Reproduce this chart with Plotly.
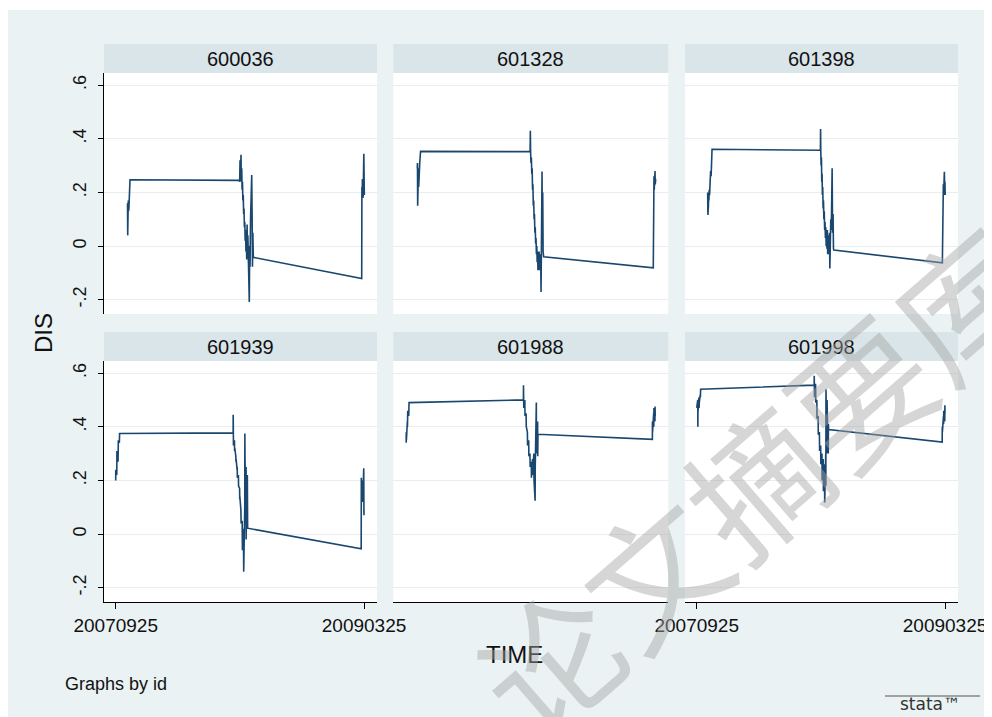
import plotly.graph_objects as go

# ---------------- data ----------------
ids = ["600036", "601328", "601398", "601939", "601988", "601998"]

time_600036 = [20071847, 20071862, 20071878, 20071893, 20071909, 20071925, 20071940, 20071956, 20071979, 20072011, 20072042,
               20080558, 20080580, 20080610, 20080640, 20080670, 20080715, 20080740, 20080770, 20080800, 20080830,
               20080860, 20080890, 20080920, 20080950, 20080980, 20081010, 20081040, 20081070, 20081100, 20081130,
               20081160, 20081190, 20081220, 20081250, 20081285, 20081310, 20081340, 20081363, 20081390, 20081420,
               20081460, 20081500, 20081551, 20081580, 20081610, 20081640, 20081676,
               20090145, 20090160, 20090180, 20090200, 20090220, 20090240, 20090260, 20090280, 20090310, 20090330, 20090350]
dis_600036 = [0.16, 0.04, 0.15, 0.13, 0.17, 0.13, 0.16, 0.14, 0.17, 0.21, 0.247,
              0.245, 0.30, 0.24, 0.32, 0.25, 0.34, 0.24, 0.29, 0.21, 0.24,
              0.17, 0.19, 0.12, 0.14, 0.07, 0.09, 0.02, 0.06, -0.02, 0.05,
              -0.05, 0.08, -0.03, 0.04, -0.06, 0.03, -0.05, -0.208, 0.00, -0.077,
              0.10, 0.22, 0.265, 0.13, -0.077, 0.05, -0.042,
              -0.121, 0.22, 0.18, 0.25, 0.19, 0.24, 0.18, 0.25, 0.344, 0.21, 0.19]

time_601328 = [20071868, 20071885, 20071900, 20071920, 20071940, 20071960, 20071980, 20072005, 20072030, 20072060, 20072090, 20072125,
               20080620, 20080639, 20080660, 20080690, 20080720, 20080750, 20080780, 20080810, 20080840, 20080870,
               20080900, 20080930, 20080960, 20080990, 20081020, 20081050, 20081080, 20081110, 20081140, 20081170,
               20081200, 20081230, 20081260, 20081290, 20081320, 20081350, 20081380, 20081410, 20081440, 20081469,
               20081490, 20081510, 20081547, 20081570, 20081600, 20081630, 20081672,
               20090174, 20090190, 20090210, 20090230, 20090250, 20090270, 20090290, 20090310, 20090330, 20090360]
dis_601328 = [0.29, 0.31, 0.15, 0.27, 0.20, 0.29, 0.22, 0.30, 0.24, 0.31, 0.33, 0.353,
              0.352, 0.43, 0.35, 0.31, 0.33, 0.27, 0.29, 0.21, 0.23, 0.15,
              0.17, 0.10, 0.12, 0.05, 0.07, 0.01, 0.03, -0.03, 0.00, -0.06,
              -0.02, -0.09, -0.03, -0.08, -0.02, -0.09, -0.04, -0.08, -0.03, -0.171,
              0.05, 0.15, 0.278, 0.05, 0.20, -0.02, -0.04,
              -0.081, 0.22, 0.20, 0.26, 0.21, 0.27, 0.22, 0.28, 0.23, 0.25]

time_601398 = [20071781, 20071800, 20071820, 20071840, 20071860, 20071880, 20071900, 20071930, 20071970, 20072010, 20072050, 20072090, 20072123,
               20080590, 20080603, 20080620, 20080645, 20080670, 20080695, 20080720, 20080745, 20080770, 20080800,
               20080830, 20080860, 20080890, 20080920, 20080950, 20080980, 20081010, 20081040, 20081070, 20081100,
               20081130, 20081160, 20081190, 20081220, 20081249, 20081300, 20081327, 20081360, 20081400, 20081440,
               20081506, 20081540, 20081580, 20081610, 20081638,
               20090118, 20090135, 20090155, 20090175, 20090195, 20090215, 20090235, 20090255, 20090275, 20090300, 20090320, 20090340]
dis_601398 = [0.20, 0.116, 0.19, 0.15, 0.20, 0.17, 0.21, 0.19, 0.25, 0.28, 0.26, 0.31, 0.361,
              0.357, 0.436, 0.35, 0.30, 0.33, 0.24, 0.27, 0.19, 0.22, 0.14,
              0.17, 0.10, 0.13, 0.06, 0.09, 0.03, 0.07, 0.00, 0.05, -0.01,
              0.06, -0.03, 0.04, -0.02, -0.03, 0.05, -0.083, 0.02, 0.10, 0.06,
              0.29, 0.05, 0.12, -0.01, -0.015,
              -0.062, 0.17, 0.20, 0.16, 0.23, 0.19, 0.26, 0.21, 0.277, 0.22, 0.24, 0.19]

time_601939 = [20070925, 20070928, 20071008, 20071010, 20071015, 20071019, 20071025, 20071101, 20071108, 20071115, 20071122, 20071130, 20071210, 20071220, 20071228,
               20080102, 20080104, 20080110, 20080118, 20080125, 20080201, 20080215, 20080228, 20080310, 20080320,
               20080331, 20080410, 20080420, 20080430, 20080512, 20080522, 20080605, 20080615, 20080625, 20080705,
               20080715, 20080725, 20080805, 20080815, 20080825, 20080905, 20080915, 20080925, 20081008, 20081015,
               20081020, 20081028, 20081105, 20081112, 20081118, 20081125, 20081202, 20081210, 20081218, 20081231,
               20090105, 20090108, 20090115, 20090122, 20090205, 20090212, 20090219, 20090226, 20090305, 20090310, 20090317, 20090320, 20090325]
dis_601939 = [0.20, 0.24, 0.22, 0.27, 0.25, 0.31, 0.28, 0.30, 0.27, 0.33, 0.31, 0.35, 0.34, 0.37, 0.375,
              0.377, 0.445, 0.36, 0.37, 0.33, 0.35, 0.31, 0.32, 0.29, 0.27,
              0.28, 0.24, 0.25, 0.21, 0.22, 0.18, 0.17, 0.13, 0.14, 0.09,
              0.07, 0.04, 0.05, 0.00, -0.06, 0.02, -0.05, -0.14, 0.10, 0.375,
              0.15, 0.28, 0.05, 0.25, -0.02, 0.18, 0.09, 0.22, 0.12, 0.022,
              -0.055, 0.19, 0.21, 0.17, 0.20, 0.15, 0.18, 0.12, 0.245, 0.10, 0.16, 0.07, 0.09]

time_601988 = [20071008, 20071012, 20071019, 20071026, 20071102, 20071109, 20071116, 20071123, 20071130, 20071207, 20071214, 20071231,
               20080102, 20080108, 20080115, 20080122, 20080130, 20080212, 20080225, 20080310, 20080325, 20080410,
               20080425, 20080512, 20080526, 20080610, 20080625, 20080710, 20080725, 20080810, 20080825, 20080910,
               20080925, 20081010, 20081020, 20081105, 20081112, 20081120, 20081128, 20081205, 20081212, 20081220, 20081231,
               20090105, 20090110, 20090120, 20090205, 20090215, 20090225, 20090305, 20090315, 20090325]
dis_601988 = [0.37, 0.34, 0.38, 0.35, 0.42, 0.40, 0.45, 0.43, 0.46, 0.44, 0.47, 0.49,
              0.50, 0.555, 0.50, 0.53, 0.47, 0.50, 0.44, 0.45, 0.40, 0.38,
              0.33, 0.35, 0.29, 0.30, 0.25, 0.27, 0.21, 0.28, 0.22, 0.30,
              0.20, 0.124, 0.25, 0.49, 0.30, 0.45, 0.32, 0.42, 0.29, 0.40, 0.372,
              0.353, 0.42, 0.38, 0.45, 0.40, 0.47, 0.42, 0.475, 0.44]

time_601998 = [20070925, 20071008, 20071015, 20071022, 20071029, 20071105, 20071112, 20071119, 20071126, 20071203, 20071214, 20071231,
               20080102, 20080108, 20080115, 20080122, 20080130, 20080212, 20080225, 20080310, 20080325, 20080410,
               20080425, 20080512, 20080526, 20080610, 20080625, 20080710, 20080725, 20080810, 20080825, 20080910,
               20080925, 20081008, 20081015, 20081025, 20081105, 20081112, 20081120, 20081128, 20081205, 20081215, 20081231,
               20090105, 20090110, 20090120, 20090205, 20090215, 20090225, 20090305, 20090315, 20090325]
dis_601998 = [0.47, 0.50, 0.40, 0.48, 0.46, 0.51, 0.47, 0.50, 0.49, 0.52, 0.51, 0.54,
              0.555, 0.59, 0.52, 0.58, 0.51, 0.56, 0.49, 0.50, 0.43, 0.44,
              0.37, 0.38, 0.31, 0.33, 0.26, 0.30, 0.20, 0.28, 0.16, 0.26,
              0.118, 0.30, 0.18, 0.54, 0.30, 0.50, 0.32, 0.45, 0.30, 0.41, 0.39,
              0.343, 0.40, 0.38, 0.44, 0.41, 0.46, 0.42, 0.48, 0.45]

y_tickvals = [-0.2, 0, 0.2, 0.4, 0.6]
y_ticktext = ["-.2", "0", ".2", ".4", ".6"]
x_tickvals = [20070925, 20090325]
x_ticktext = ["20070925", "20090325"]

series = [
    (time_600036, dis_600036), (time_601328, dis_601328), (time_601398, dis_601398),
    (time_601939, dis_601939), (time_601988, dis_601988), (time_601998, dis_601998),
]

# ---------------- style / layout ----------------
FONT = "Liberation Sans, Arial, sans-serif"
BG = "#eaf2f3"
STRIP = "#d9e5e9"
GRID = "#e6eef0"
LINE = "#1a476f"

OX, OY = 8, 8          # page offset of the figure (body margin)
W, H = 984, 709


def fx(x):
    return (x - OX) / W


def fy(y):
    return 1 - (y - OY) / H


cols = [(104, 377), (393.3, 668.3), (685, 958)]
rows = [(73, 314), (361, 602)]
strips = [(44, 73), (332, 361)]
X_RANGE = [20070010, 20091340]
Y_RANGE = [-0.253, 0.645]

fig = go.Figure()
layout = dict(width=W, height=H, margin=dict(l=0, r=0, t=0, b=0, pad=0, autoexpand=False), autosize=False,
              paper_bgcolor="white", plot_bgcolor="rgba(0,0,0,0)", showlegend=False,
              font=dict(family=FONT, color="#000000"))

shapes = [dict(type="rect", xref="paper", yref="paper", x0=0, x1=fx(986), y0=0, y1=fy(10),
               fillcolor=BG, line=dict(width=0), layer="below")]
annotations = []

for i, (t, d) in enumerate(series):
    r, c = divmod(i, 3)
    n = "" if i == 0 else str(i + 1)
    fig.add_trace(go.Scatter(x=t, y=d, mode="lines", line=dict(color=LINE, width=1.6),
                             xaxis="x" + n, yaxis="y" + n, hoverinfo="skip"))
    xa = dict(domain=[fx(cols[c][0]), fx(cols[c][1])], range=X_RANGE, anchor="y" + n,
              showgrid=False, zeroline=False, fixedrange=True, automargin=False)
    if r == 1:
        xa.update(showline=True, linecolor="black", linewidth=1.2)
        if c != 1:
            xa.update(tickmode="array", tickvals=x_tickvals, ticktext=x_ticktext,
                      ticks="outside", ticklen=6, tickcolor="black", tickwidth=1,
                      tickfont=dict(size=19, family=FONT, color="#111"))
        else:
            xa.update(showticklabels=False, ticks="")
    else:
        xa.update(showticklabels=False, ticks="", showline=False)
    ya = dict(domain=[fy(rows[r][1]), fy(rows[r][0])], range=Y_RANGE, anchor="x" + n,
              tickmode="array", tickvals=y_tickvals, ticktext=y_ticktext,
              showgrid=True, gridcolor=GRID, gridwidth=1, zeroline=False, fixedrange=True, automargin=False)
    if c == 0:
        ya.update(showline=True, linecolor="black", linewidth=1.2, ticks="outside", ticklen=5,
                  tickcolor="black", tickangle=-90, ticklabelstandoff=5,
                  tickfont=dict(size=18, family=FONT, color="#111"))
    else:
        ya.update(showticklabels=False, ticks="")
    layout["xaxis" + n] = xa
    layout["yaxis" + n] = ya

    shapes.append(dict(type="rect", xref="paper", yref="paper",
                       x0=fx(cols[c][0]), x1=fx(cols[c][1]), y0=fy(rows[r][1]), y1=fy(rows[r][0]),
                       fillcolor="white", line=dict(width=0), layer="below"))
    shapes.append(dict(type="rect", xref="paper", yref="paper",
                       x0=fx(cols[c][0]), x1=fx(cols[c][1]), y0=fy(strips[r][1]), y1=fy(strips[r][0]),
                       fillcolor=STRIP, line=dict(width=0), layer="below"))
    annotations.append(dict(text=ids[i], xref="paper", yref="paper",
                            x=fx((cols[c][0] + cols[c][1]) / 2), y=fy((strips[r][0] + strips[r][1]) / 2),
                            showarrow=False, xanchor="center", yanchor="middle",
                            font=dict(size=20, family=FONT, color="#111")))

annotations += [
    dict(text="DIS", xref="paper", yref="paper", x=fx(44), y=fy(333), textangle=-90,
         showarrow=False, xanchor="center", yanchor="middle", font=dict(size=24, family=FONT, color="#111")),
    dict(text="TIME", xref="paper", yref="paper", x=fx(514), y=fy(654),
         showarrow=False, xanchor="center", yanchor="middle", font=dict(size=24, family=FONT, color="#111")),
    dict(text="Graphs by id", xref="paper", yref="paper", x=fx(63), y=fy(684),
         showarrow=False, xanchor="left", yanchor="middle", font=dict(size=18, family=FONT, color="#111")),
    dict(text="stata™", xref="paper", yref="paper", x=fx(930), y=fy(704),
         showarrow=False, xanchor="center", yanchor="middle", font=dict(size=17, family="DejaVu Sans", color="#333")),
    dict(text="论文摘要库", xref="paper", yref="paper", x=fx(754), y=fy(479), textangle=-41,
         showarrow=False, xanchor="center", yanchor="middle",
         font=dict(size=137, family="Noto Sans CJK SC", color="rgba(165,165,165,0.45)")),
]
shapes.append(dict(type="line", xref="paper", yref="paper", x0=fx(885), x1=fx(980), y0=fy(696), y1=fy(696),
                   line=dict(color="#555", width=1)))

layout["shapes"] = shapes
layout["annotations"] = annotations
fig.update_layout(**layout)
fig.write_html("out.html")
